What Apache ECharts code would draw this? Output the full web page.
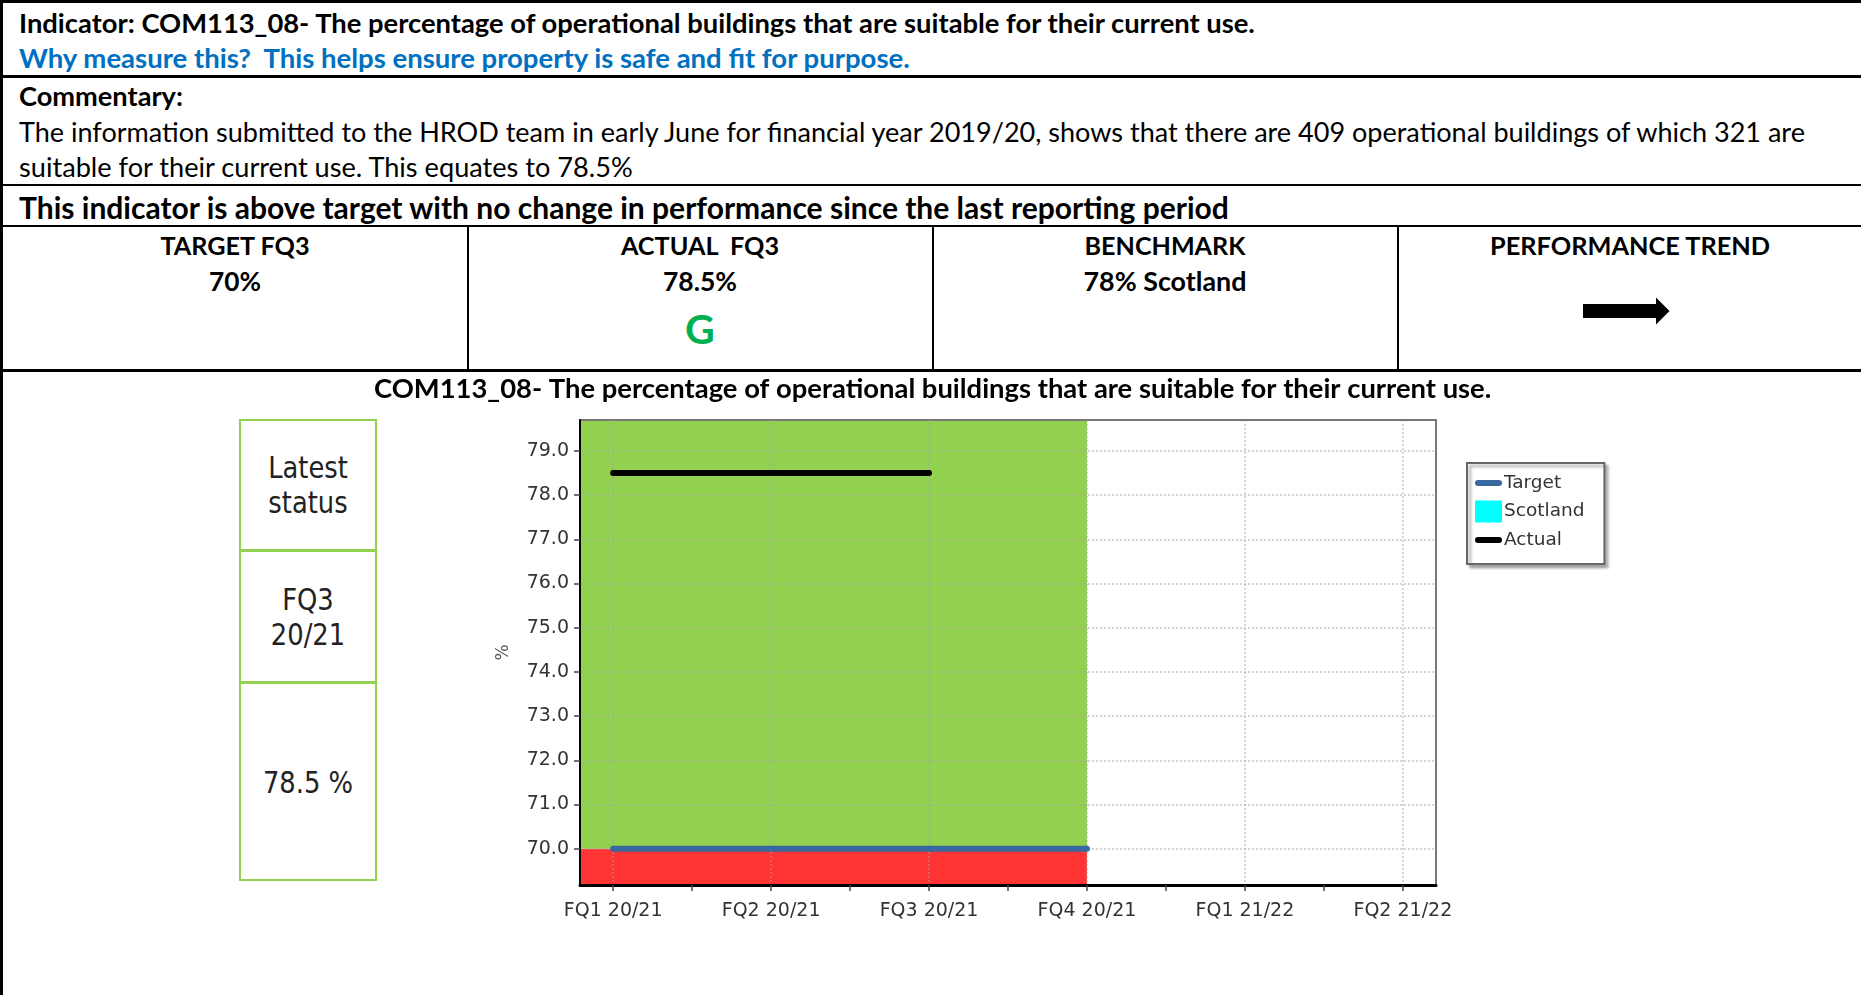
<!DOCTYPE html>
<html>
<head>
<meta charset="utf-8">
<script src="https://cdn.jsdelivr.net/npm/echarts@6/dist/echarts.min.js"></script>
<style>
html,body{margin:0;padding:0;background:#fff;width:1861px;height:995px;overflow:hidden;}
#page{position:relative;width:1861px;height:995px;}
.ln{position:absolute;background:#000;}
.t{position:absolute;white-space:pre;line-height:1;transform:translateY(-50%);font-family:Lato,'Open Sans',sans-serif;color:#000;font-size:24px;}
.b{font-weight:bold;}
.c{transform:translate(-50%,-50%);}
#chart{position:absolute;left:0;top:0;width:1861px;height:995px;}
.sb{position:absolute;border:2px solid #92D050;box-sizing:border-box;}
.st{position:absolute;left:307.5px;font-family:'DejaVu Sans',sans-serif;font-size:30px;line-height:35px;color:#222;text-align:center;white-space:pre;transform:translate(-50%,-50%) scaleX(0.86);}
</style>
</head>
<body>
<div id="page">
  <!-- table rules -->
  <div class="ln" style="left:0;top:0;width:1861px;height:3px"></div>
  <div class="ln" style="left:0;top:0;width:3px;height:995px"></div>
  <div class="ln" style="left:0;top:75px;width:1861px;height:2.5px"></div>
  <div class="ln" style="left:0;top:183.5px;width:1861px;height:2.5px"></div>
  <div class="ln" style="left:0;top:224.5px;width:1861px;height:2.5px"></div>
  <div class="ln" style="left:0;top:369px;width:1861px;height:2.5px"></div>
  <div class="ln" style="left:466.5px;top:226px;width:2px;height:144px"></div>
  <div class="ln" style="left:932px;top:226px;width:2px;height:144px"></div>
  <div class="ln" style="left:1397px;top:226px;width:2px;height:144px"></div>

  <div class="t b" data-w="1239" style="left:19px;top:22.5px">Indicator: COM113_08- The percentage of operational buildings that are suitable for their current use.</div>
  <div class="t b" data-w="894" style="left:19px;top:58px;color:#0070C0">Why measure this?  This helps ensure property is safe and fit for purpose.</div>
  <div class="t b" data-w="164" style="left:19px;top:96px">Commentary:</div>
  <div class="t" data-w="1791" style="left:19px;top:132px">The information submitted to the HROD team in early June for financial year 2019/20, shows that there are 409 operational buildings of which 321 are</div>
  <div class="t" data-w="616" style="left:19px;top:167px">suitable for their current use. This equates to 78.5%</div>
  <div class="t b" data-w="1212" style="left:19px;top:207px">This indicator is above target with no change in performance since the last reporting period</div>

  <div class="t b c" data-w="150" style="left:235px;top:245.7px">TARGET FQ3</div>
  <div class="t b c" data-w="52" style="left:235px;top:281.3px">70%</div>
  <div class="t b c" data-w="159" style="left:700px;top:245.7px">ACTUAL  FQ3</div>
  <div class="t b c" data-w="74" style="left:700px;top:281.3px">78.5%</div>
  <div class="t b c" style="left:700px;top:328px;font-size:41px;color:#00B050">G</div>
  <div class="t b c" data-w="161" style="left:1165px;top:245.7px">BENCHMARK</div>
  <div class="t b c" data-w="163" style="left:1165px;top:281.3px">78% Scotland</div>
  <div class="t b c" data-w="281" style="left:1630px;top:245.7px">PERFORMANCE TREND</div>
  <svg style="position:absolute;left:0;top:0" width="1861" height="400">
    <polygon points="1583,304 1656,304 1656,297.5 1669.5,311 1656,324.5 1656,318 1583,318" fill="#000"/>
  </svg>

  <!-- latest status boxes -->
  <div class="sb" style="left:238.5px;top:418.5px;width:138.5px;height:462.5px"></div>
  <div class="ln" style="left:238.5px;top:548.5px;width:138.5px;height:3px;background:#92D050"></div>
  <div class="ln" style="left:238.5px;top:681px;width:138.5px;height:3px;background:#92D050"></div>
  <div class="st" style="top:485px">Latest
status</div>
  <div class="st" style="top:617px">FQ3
20/21</div>
  <div class="st" style="top:782px">78.5 %</div>

  <div id="chart"></div>
</div>
<script>
// ---- data ----
const categories = ['FQ1 20/21', 'FQ2 20/21', 'FQ3 20/21', 'FQ4 20/21', 'FQ1 21/22', 'FQ2 21/22'];
const targetValues = [70, 70, 70, 70, null, null];
const actualValues = [78.5, 78.5, 78.5, null, null, null];
const scotlandValues = [null, null, null, null, null, null];
const yTickValues = [70, 71, 72, 73, 74, 75, 76, 77, 78, 79];
const chartTitle = 'COM113_08- The percentage of operational buildings that are suitable for their current use.';

// axis extents (scale configuration)
const X_MIN = -0.21, X_MAX = 5.21;
const Y_MIN = 69.18, Y_MAX = 79.70;

// ---- fit table text widths ----
const mctx = document.createElement('canvas').getContext('2d');
function measure(text, weight, family) {
  mctx.font = weight + ' 100px ' + family;
  return mctx.measureText(text).width;
}
document.querySelectorAll('[data-w]').forEach(el => {
  const cs = getComputedStyle(el);
  const w = measure(el.textContent, cs.fontWeight, cs.fontFamily);
  el.style.fontSize = (100 * (+el.dataset.w) / w) + 'px';
});
const titleWidth = 1118;
const titleSize = 100 * titleWidth / measure(chartTitle, 'bold', 'Lato');

// ---- chart ----
const idx = categories.map((c, i) => i);
const halfIdx = idx.slice(0, -1).map(i => i + 0.5);
const toXY = arr => arr.map((v, i) => [i, v]).filter(p => p[1] !== null);
const lastTargetIdx = targetValues.reduce((a, v, i) => (v !== null ? i : a), 0);
const targetLevel = targetValues[0];

const gridLine = { show: true, lineStyle: { type: [2, 2], color: 'rgba(165,165,165,0.6)', width: 1.5 } };
const labelFont = { fontFamily: 'DejaVu Sans', color: '#333' };
const barIcon = 'path://M3,0 H24 A3,3 0 0 1 24,6 H3 A3,3 0 0 1 3,0 Z';

const chart = echarts.init(document.getElementById('chart'), null, { renderer: 'canvas' });
chart.setOption({
  animation: false,
  backgroundColor: 'transparent',
  title: {
    text: chartTitle,
    left: 933 - titleWidth / 2,
    top: 389 - titleSize * 0.5,
    padding: 0,
    textStyle: { fontFamily: 'Lato', fontWeight: 'bold', fontSize: titleSize, lineHeight: titleSize, color: '#000' }
  },
  grid: { left: 580, top: 420, width: 856, height: 465, show: true, borderColor: '#777', borderWidth: 2, backgroundColor: 'transparent', z: 1.6 },
  legend: {
    orient: 'vertical', left: 1467, top: 463,
    data: [
      { name: 'Target', icon: barIcon, itemStyle: { borderWidth: 0 } },
      { name: 'Scotland', icon: 'rect', itemStyle: { borderWidth: 0 } },
      { name: 'Actual', icon: barIcon, itemStyle: { borderWidth: 0 } }
    ],
    itemWidth: 27, itemHeight: 22, itemGap: 6.5,
    padding: [9, 20, 13, 8],
    symbolKeepAspect: true,
    backgroundColor: '#fff', borderColor: '#666', borderWidth: 2,
    shadowColor: 'rgba(0,0,0,0.35)', shadowBlur: 3, shadowOffsetX: 3, shadowOffsetY: 3,
    selectedMode: false,
    textStyle: { fontFamily: 'DejaVu Sans', fontSize: 18.5, color: '#333', lineHeight: 22, padding: [0, 0, 0, -3] }
  },
  xAxis: [{
    type: 'value', min: X_MIN, max: X_MAX, position: 'bottom', z: 1.7,
    axisLine: { show: true, onZero: false, lineStyle: { color: '#000', width: 3 } },
    axisTick: { show: true, customValues: idx, length: 6, lineStyle: { color: '#444', width: 1.5 } },
    axisLabel: Object.assign({ customValues: idx, formatter: v => categories[Math.round(v)], fontSize: 19, margin: 17 }, labelFont),
    splitLine: gridLine
  }, {
    type: 'value', min: X_MIN, max: X_MAX, position: 'bottom', z: 1.7,
    axisLine: { show: false },
    axisTick: { show: true, customValues: halfIdx, length: 6, lineStyle: { color: '#444', width: 1.5 } },
    axisLabel: { show: false },
    splitLine: { show: false }
  }],
  yAxis: {
    type: 'value', min: Y_MIN, max: Y_MAX, z: 1.7,
    name: '%', nameLocation: 'middle', nameGap: 68,
    nameTextStyle: { fontFamily: 'DejaVu Sans', fontSize: 17, color: '#555' },
    axisLine: { show: true, onZero: false, lineStyle: { color: '#000', width: 2 } },
    axisTick: { show: true, customValues: yTickValues, length: 6, lineStyle: { color: '#444', width: 1.5 } },
    axisLabel: Object.assign({ customValues: yTickValues, formatter: v => v.toFixed(1), fontSize: 19, margin: 11 }, labelFont),
    splitLine: gridLine
  },
  series: [{
    name: 'Target', type: 'line', xAxisIndex: 0, data: toXY(targetValues),
    symbol: 'none', color: '#3868A0', z: 3,
    lineStyle: { width: 6, cap: 'round', color: '#3868A0' },
    markArea: {
      silent: true,
      data: [
        [{ xAxis: X_MIN, yAxis: Y_MIN, itemStyle: { color: '#FF3535' } }, { xAxis: lastTargetIdx, yAxis: targetLevel }],
        [{ xAxis: X_MIN, yAxis: targetLevel, itemStyle: { color: '#92D050' } }, { xAxis: lastTargetIdx, yAxis: Y_MAX }]
      ]
    }
  }, {
    name: 'Scotland', type: 'line', xAxisIndex: 0, data: toXY(scotlandValues),
    symbol: 'none', color: '#00FFFF', z: 3,
    lineStyle: { width: 6, color: '#00FFFF' }
  }, {
    name: 'Actual', type: 'line', xAxisIndex: 0, data: toXY(actualValues),
    symbol: 'none', color: '#000', z: 3,
    lineStyle: { width: 6, cap: 'round', color: '#000' }
  }]
});
</script>
</body>
</html>
